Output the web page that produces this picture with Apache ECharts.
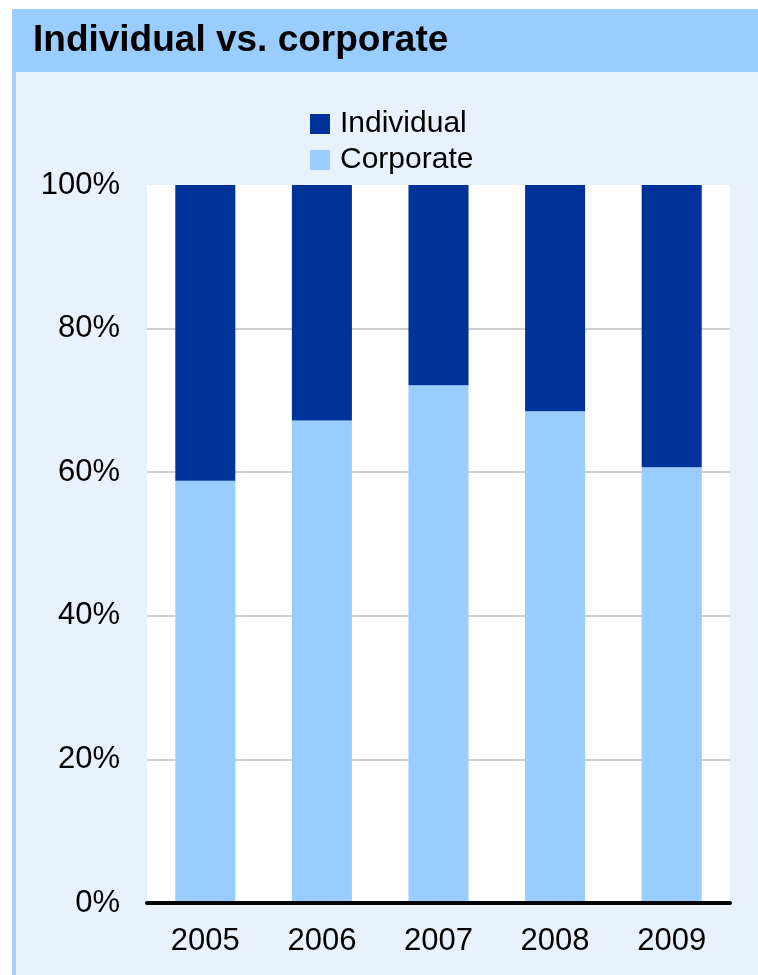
<!DOCTYPE html>
<html>
<head>
<meta charset="utf-8">
<script src="https://cdn.jsdelivr.net/npm/echarts@6/dist/echarts.min.js"></script>
<style>
  html, body { margin: 0; padding: 0; background: #ffffff; }
  #chart { width: 758px; height: 975px; }
</style>
</head>
<body>
<div id="chart"></div>
<script>
// Share of individual vs. corporate, per year (percent of total)
const years = ['2005', '2006', '2007', '2008', '2009'];
const corporate = [58.8, 67.2, 72.1, 68.5, 60.7];
const individual = [41.2, 32.8, 27.9, 31.5, 39.3];
const yTicks = [0, 20, 40, 60, 80, 100];

const chart = echarts.init(document.getElementById('chart'), null, { renderer: 'canvas' });

const baseFont = 'Liberation Sans, Arial, sans-serif';

chart.setOption({
  animation: false,
  backgroundColor: '#ffffff',
  graphic: [
    // header band
    { type: 'rect', z: -10, shape: { x: 12, y: 9, width: 746, height: 63 }, style: { fill: '#99CCFF' } },
    // panel body
    { type: 'rect', z: -10, shape: { x: 12, y: 72, width: 746, height: 903 }, style: { fill: '#E8F2FD' } },
    // left edge of the panel
    { type: 'rect', z: -9, shape: { x: 12, y: 72, width: 4, height: 903 }, style: { fill: '#A3CFFF' } }
  ],
  title: {
    text: 'Individual vs. corporate',
    left: 33,
    top: 22,
    padding: 0,
    textStyle: {
      fontFamily: baseFont,
      fontWeight: 'bold',
      fontSize: 37,
      lineHeight: 38,
      color: '#000000'
    }
  },
  legend: {
    data: ['Individual', 'Corporate'],
    orient: 'vertical',
    left: 310,
    top: 108,
    padding: 0,
    itemWidth: 20,
    itemHeight: 20,
    itemGap: 4,
    icon: 'rect',
    textStyle: {
      fontFamily: baseFont,
      fontSize: 30,
      lineHeight: 32,
      padding: [0, 0, 0, 5],
      color: '#000000'
    }
  },
  grid: {
    left: 147,
    right: 28,
    top: 185,
    bottom: 72,
    show: true,
    backgroundColor: '#ffffff',
    borderWidth: 0,
    containLabel: false
  },
  xAxis: {
    type: 'category',
    data: years,
    axisTick: { show: false },
    axisLine: { show: true, lineStyle: { color: '#000000', width: 4, cap: 'round' } },
    axisLabel: {
      margin: 23,
      fontFamily: baseFont,
      fontSize: 31,
      color: '#000000'
    },
    z: 10
  },
  yAxis: {
    type: 'value',
    min: yTicks[0],
    max: yTicks[yTicks.length - 1],
    interval: yTicks[1] - yTicks[0],
    axisLine: { show: false },
    axisTick: { show: false },
    splitLine: { show: true, showMinLine: false, showMaxLine: false, lineStyle: { color: '#BEBEBE', width: 1.5 } },
    axisLabel: {
      margin: 27,
      fontFamily: baseFont,
      fontSize: 31,
      color: '#000000',
      formatter: '{value}%'
    }
  },
  series: [
    {
      name: 'Corporate',
      type: 'bar',
      stack: 'share',
      data: corporate,
      barWidth: '51.5%',
      itemStyle: { color: '#99CCFF' }
    },
    {
      name: 'Individual',
      type: 'bar',
      stack: 'share',
      data: individual,
      barWidth: '51.5%',
      itemStyle: { color: '#003399' }
    }
  ]
});
</script>
</body>
</html>
